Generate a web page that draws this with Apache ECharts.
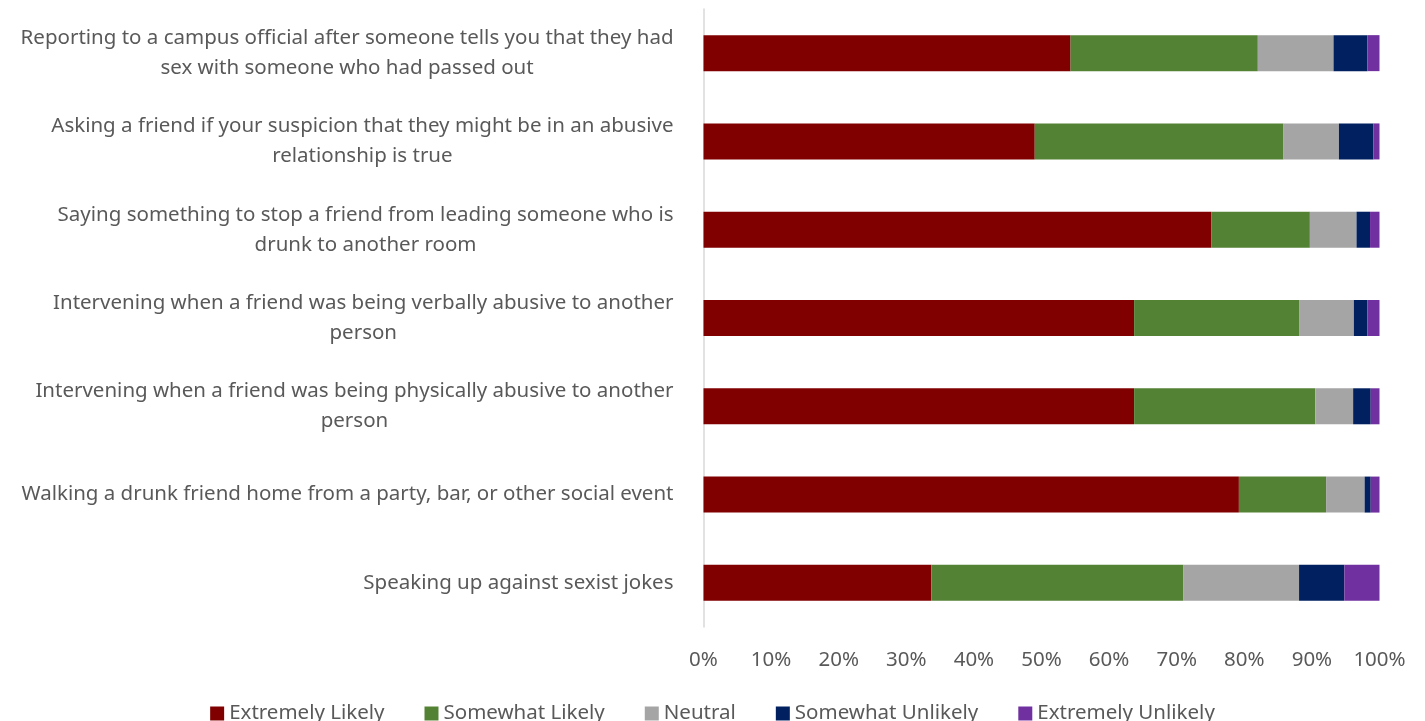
<!DOCTYPE html>
<html>
<head>
<meta charset="utf-8">
<script src="https://cdn.jsdelivr.net/npm/echarts@6/dist/echarts.min.js"></script>
<style>
  html, body { margin: 0; padding: 0; background: #fff; }
  #chart { width: 1425px; height: 721px; }
</style>
</head>
<body>
<div id="chart"></div>
<script>
// Survey items, top to bottom (line breaks mark where each label wraps)
const categories = [
  'Reporting to a campus official after someone tells you that they had\nsex with someone who had passed out',
  'Asking a friend if your suspicion that they might be in an abusive\nrelationship is true',
  'Saying something to stop a friend from leading someone who is\ndrunk to another room',
  'Intervening when a friend was being verbally abusive to another\nperson',
  'Intervening when a friend was being physically abusive to another\nperson',
  'Walking a drunk friend home from a party, bar, or other social event',
  'Speaking up against sexist jokes'
];

// Share of responses (%) per item
const extremelyLikely   = [54.3, 49.0, 75.1, 63.7, 63.7, 79.2, 33.7];
const somewhatLikely    = [27.7, 36.8, 14.6, 24.4, 26.8, 12.9, 37.3];
const neutral           = [11.2,  8.2,  6.9,  8.1,  5.6,  5.7, 17.1];
const somewhatUnlikely  = [ 5.0,  5.1,  2.0,  2.0,  2.6,  0.9,  6.7];
const extremelyUnlikely = [ 1.8,  0.9,  1.4,  1.8,  1.3,  1.3,  5.2];

const seriesNames = ['Extremely Likely', 'Somewhat Likely', 'Neutral', 'Somewhat Unlikely', 'Extremely Unlikely'];
const seriesData = [extremelyLikely, somewhatLikely, neutral, somewhatUnlikely, extremelyUnlikely];
const seriesColors = ['#800000', '#548235', '#A5A5A5', '#002060', '#7030A0'];

const FONT = '"Noto Sans", sans-serif';
const TEXT = '#595959';
const FS = 20.5;

const chart = echarts.init(document.getElementById('chart'), null, { renderer: 'canvas' });

chart.setOption({
  animation: false,
  backgroundColor: '#fff',
  textStyle: { fontFamily: FONT },
  grid: { left: 703.5, right: 45.5, top: 9, bottom: 94, containLabel: false },
  legend: {
    data: seriesNames,
    top: 698,
    left: 'center',
    itemWidth: 14,
    itemHeight: 14,
    itemGap: 40,
    icon: 'rect',
    textStyle: { color: TEXT, fontSize: FS, fontFamily: FONT }
  },
  xAxis: {
    type: 'value',
    min: 0,
    max: 100,
    interval: 10,
    axisLine: { show: false },
    axisTick: { show: false },
    splitLine: { show: false },
    axisLabel: {
      formatter: '{value}%',
      color: TEXT,
      fontSize: FS,
      fontFamily: FONT,
      margin: 23
    }
  },
  yAxis: {
    type: 'category',
    data: categories,
    inverse: true,
    axisLine: { show: true, lineStyle: { color: '#d9d9d9', width: 1.5 } },
    axisTick: { show: false },
    axisLabel: {
      margin: 30,
      align: 'right',
      formatter: v => v.split('\n').map(l => '{c|' + l + '}').join('\n'),
      rich: {
        c: { align: 'center', fontSize: FS, lineHeight: 30, color: TEXT, fontFamily: FONT }
      }
    }
  },
  series: seriesNames.map((name, i) => ({
    name,
    type: 'bar',
    stack: 'total',
    barWidth: 36,
    data: seriesData[i],
    itemStyle: { color: seriesColors[i] }
  }))
});
</script>
</body>
</html>
